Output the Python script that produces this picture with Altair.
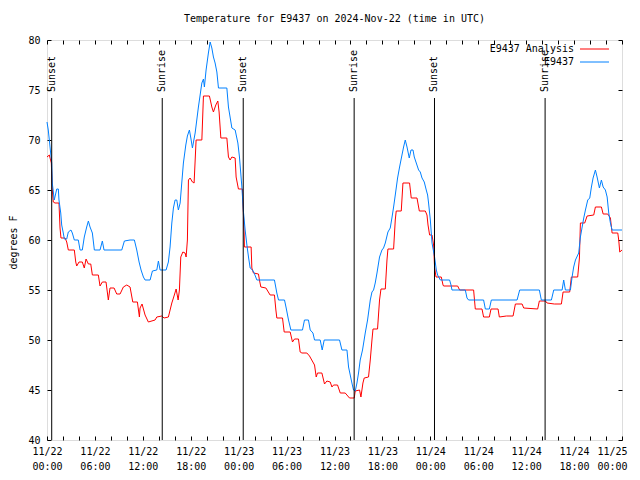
import altair as alt
import pandas as pd

# ---------------- data ----------------
obs_hours = [0.00, 0.16, 0.59, 0.66, 0.91, 1.22, 1.42, 1.50, 1.72, 1.84, 2.04, 2.17, 2.47, 2.67, 3.00, 3.17,
             3.42, 3.92, 4.14, 4.42, 4.67, 4.97, 5.18, 5.39, 5.68, 5.93, 6.64, 6.93, 7.14, 9.36, 9.69, 10.40,
             10.94, 11.24, 11.53, 11.78, 12.07, 12.28, 12.91, 13.20, 13.75, 13.95, 14.16, 14.91, 15.20, 15.41,
             15.63, 15.83, 16.04, 16.25, 16.45, 16.67, 17.08, 17.38, 17.58, 17.83, 18.01, 18.21, 18.55, 18.96,
             19.39, 19.59, 19.71, 19.92, 20.21, 20.43, 20.64, 20.84, 21.05, 21.27, 21.47, 22.52, 22.72, 23.15,
             23.56, 23.90, 24.10, 24.40, 24.60, 24.81, 25.03, 25.23, 25.44, 25.73, 25.94, 26.28, 28.48, 28.78,
             28.99, 29.74, 29.95, 30.24, 30.54, 31.99, 32.24, 32.74, 32.96, 33.30, 33.50, 34.21, 34.46, 34.71,
             36.63, 36.93, 37.56, 37.76, 38.18, 38.38, 38.60, 38.81, 39.01, 39.22, 39.51, 39.85, 40.14, 40.48,
             40.69, 40.89, 41.10, 41.32, 41.64, 41.94, 42.14, 42.36, 42.69, 42.98, 43.19, 43.40, 43.61, 43.90,
             44.15, 44.45, 44.65, 44.86, 45.08, 45.36, 45.58, 45.83, 45.99, 46.24, 46.53, 46.74, 46.96, 47.24,
             47.49, 47.66, 47.78, 48.00, 48.21, 48.53, 48.75, 48.91, 49.25, 50.41, 50.59, 50.71, 52.38, 52.59,
             52.79, 54.67, 54.89, 55.39, 55.64, 58.86, 59.19, 61.65, 61.90, 63.16, 63.45, 64.50, 64.70, 64.91,
             65.54, 65.75, 65.95, 66.17, 66.58, 66.79, 67.01, 67.21, 67.42, 67.71, 67.96, 68.17, 68.38, 68.67,
             68.88, 69.17, 69.42, 69.64, 69.92, 70.14, 70.34, 70.55, 70.76, 72.00]
obs_temps = [71.8, 71.0, 67.7, 65.7, 64.0, 65.1, 65.1, 64.0, 62.7, 61.5, 60.7, 60.1, 60.1, 60.8, 61.0, 60.7,
             60.0, 60.0, 59.0, 59.0, 60.3, 61.3, 61.9, 61.3, 60.7, 59.0, 59.0, 59.9, 59.0, 59.0, 59.9, 60.0,
             60.0, 59.0, 57.8, 57.0, 56.3, 56.0, 56.0, 56.9, 57.0, 57.9, 57.0, 57.0, 57.8, 59.3,
             61.7, 63.2, 64.0, 64.0, 63.0, 63.7, 67.7, 69.5, 70.4, 71.0, 70.2, 69.2, 70.7, 73.3,
             75.7, 76.1, 75.3, 77.0, 78.7, 79.8, 79.2, 78.3, 77.7, 76.8, 75.2, 75.2, 73.3, 71.2,
             71.0, 69.7, 68.3, 65.3, 62.8, 61.0, 59.5, 58.3, 57.2, 57.0, 56.7, 56.0, 56.0, 54.7,
             54.0, 54.0, 53.2, 52.0, 51.0, 51.0, 52.0, 52.0, 51.0, 50.7, 50.0, 50.0, 49.0, 50.0,
             50.0, 49.0, 49.0, 47.3, 45.7, 45.0, 44.9, 45.7, 46.7, 48.0, 49.0, 50.7, 52.0, 54.0,
             54.8, 55.0, 55.7, 56.7, 58.3, 59.0, 59.2, 59.7, 60.8, 61.2, 62.2, 63.3, 64.5, 66.2,
             67.3, 68.5, 69.3, 70.0, 69.3, 68.2, 69.0, 69.0, 68.3, 67.7, 67.0, 66.8, 66.2, 65.8,
             65.0, 64.5, 63.7, 62.0, 59.7, 58.3, 57.0, 56.5, 56.0, 56.0, 55.5, 55.0, 55.0, 54.2,
             54.0, 54.0, 53.1, 53.1, 54.0, 54.0, 55.0, 55.0, 54.0, 54.0, 55.0, 55.0, 56.0, 55.0,
             55.0, 56.3, 57.3, 58.0, 58.7, 60.3, 61.3, 62.2, 63.0, 64.0, 64.2, 65.3, 66.2, 67.0,
             66.3, 65.2, 66.0, 65.3, 65.0, 64.3, 62.7, 61.7, 61.0, 61.0]

ana_hours = [0.00, 0.29, 0.54, 0.66, 0.79, 1.00, 1.50, 1.63, 1.75, 2.26, 2.47, 2.67, 3.42, 3.60, 3.72, 4.01,
             4.42, 4.67, 4.89, 5.18, 5.48, 5.68, 6.43, 6.64, 6.93, 7.39, 7.68, 7.89, 8.40, 8.73, 9.15, 9.56,
             9.99, 10.40, 10.74, 11.32, 11.57, 11.65, 11.90, 12.28, 12.69, 13.53, 13.75, 14.37, 14.66, 15.20,
             15.63, 15.83, 16.17, 16.42, 16.58, 16.75, 17.01, 17.29, 17.42, 17.58, 17.71, 17.92, 18.21, 18.42,
             18.67, 19.39, 19.59, 20.34, 20.64, 20.84, 21.14, 21.39, 21.55, 21.77, 22.52, 22.72, 22.93, 23.15,
             23.56, 23.68, 23.97, 24.47, 24.60, 24.69, 24.72, 25.56, 25.65, 25.85, 26.48, 26.60, 26.78, 27.41,
             27.94, 28.48, 28.66, 28.78, 29.49, 29.70, 30.45, 30.74, 30.99, 31.49, 31.70, 31.92, 32.54, 32.87,
             33.50, 33.71, 33.87, 34.42, 34.75, 35.05, 35.46, 35.68, 35.88, 36.38, 36.72, 37.34, 37.88, 38.47,
             38.60, 39.14, 39.31, 39.56, 39.72, 40.26, 40.48, 40.69, 40.82, 41.39, 41.64, 41.82, 42.36, 42.57,
             42.69, 43.40, 43.61, 43.73, 44.36, 44.57, 45.40, 45.61, 46.33, 46.62, 47.37, 47.58, 47.71, 47.91,
             48.21, 48.41, 48.53, 48.71, 49.37, 49.59, 49.66, 51.42, 51.67, 53.42, 53.63, 54.47, 54.67, 55.39,
             55.60, 56.48, 56.64, 57.52, 58.36, 58.65, 59.49, 59.69, 61.44, 61.65, 62.41, 62.62, 63.53, 64.41,
             64.62, 65.45, 65.66, 66.45, 66.67, 66.79, 67.33, 67.63, 68.46, 68.67, 69.42, 69.64, 70.21, 70.55,
             70.76, 71.47, 71.59, 71.72, 72.00]
ana_temps = [68.3, 68.5, 67.7, 65.1, 63.8, 63.7, 63.7, 61.2, 60.2, 60.2, 59.8, 59.0, 59.0, 57.8, 57.4, 57.8,
             57.8, 57.2, 58.1, 57.6, 57.6, 56.5, 56.5, 55.4, 55.8, 55.8, 54.0, 55.2, 55.2, 54.6, 54.6, 55.3,
             55.5, 55.3, 53.8, 53.8, 52.3, 53.2, 53.6, 52.5, 51.8, 52.0, 52.3, 52.4, 52.2, 52.3,
             53.7, 54.2, 55.1, 54.0, 55.0, 58.3, 58.8, 58.7, 58.3, 60.0, 66.0, 66.2, 65.8, 65.7,
             70.0, 70.0, 74.4, 74.4, 73.3, 72.8, 73.5, 73.9, 72.8, 70.2, 70.2, 68.3, 68.0, 68.3,
             68.2, 66.3, 65.1, 65.1, 62.5, 60.5, 59.3, 59.3, 57.2, 56.7, 56.6, 56.0, 55.3, 55.2,
             54.5, 54.5, 53.0, 52.2, 52.2, 50.8, 50.8, 49.8, 50.1, 50.1, 48.8, 48.7, 48.7, 48.4,
             47.5, 46.3, 46.7, 46.7, 45.6, 45.9, 45.8, 45.3, 45.5, 45.5, 44.7, 44.7, 44.2, 44.2,
             44.9, 45.0, 44.3, 45.7, 46.2, 46.3, 48.0, 50.0, 51.1, 51.1, 54.0, 55.1, 55.1, 58.0,
             59.1, 59.1, 62.0, 62.9, 62.9, 65.7, 65.7, 64.2, 64.2, 62.9, 62.9, 62.5, 61.5, 60.5,
             60.5, 59.5, 57.3, 56.3, 56.3, 55.5, 55.4, 55.4, 55.0, 55.0, 53.1, 53.1, 52.3, 52.3,
             53.1, 53.1, 52.3, 52.4, 52.4, 53.6, 53.6, 53.2, 53.1, 53.9, 53.9, 53.7, 53.6, 53.6,
             54.8, 54.8, 56.3, 56.3, 58.2, 61.7, 61.7, 62.4, 62.5, 63.3, 63.3, 62.6, 62.6, 62.2,
             60.7, 60.7, 60.0, 58.8, 59.0]

sun_hours = [0.59, 14.43, 24.57, 38.46, 48.52, 62.37]
sun_labels = ["Sunset", "Sunrise", "Sunset", "Sunrise", "Sunset", "Sunrise"]

tick_hours = [0, 6, 12, 18, 24, 30, 36, 42, 48, 54, 60, 66, 72]
tick_days = ["11/22"] * 4 + ["11/23"] * 4 + ["11/24"] * 4 + ["11/25"]
tick_times = ["00:00", "06:00", "12:00", "18:00"] * 3 + ["00:00"]
minor_tick_hours = list(range(0, 73, 2))
y_ticks = [40, 45, 50, 55, 60, 65, 70, 75, 80]

series_names = ["E9437 Analysis", "E9437"]
series_colors = ["#ff0000", "#0080ff"]

TITLE = "Temperature for E9437 on 2024-Nov-22 (time in UTC)"
FONT = "DejaVu Sans Mono"
W, H = 575, 400

# ---------------- build ----------------
df_ana = pd.DataFrame({"h": ana_hours, "temp": ana_temps})
df_obs = pd.DataFrame({"h": obs_hours, "temp": obs_temps})
df_sun = pd.DataFrame({"h": sun_hours, "label": sun_labels})
df_leg = pd.DataFrame({"name": series_names, "color": series_colors})

label_expr = "[" + ",".join(f"['{d}','{t}']" for d, t in zip(tick_days, tick_times)) + "][round(datum.value/6)]"

xscale = alt.Scale(domain=[0, 72], nice=False, zero=False)
yscale = alt.Scale(domain=[40, 80], nice=False, zero=False)

x_label_axis = alt.Axis(orient="bottom", values=tick_hours, labelExpr=label_expr, ticks=False, domain=False,
                        grid=False, labelPadding=6, labelFont=FONT, labelFontSize=10, labelColor="black",
                        labelBaseline="top", labelLineHeight=15, labelFlush=False, labelOverlap=False,
                        labelOffset={"condition": {"test": f"datum.value >= {tick_hours[-1]}", "value": -10},
                                     "value": 0},
                        title=None)
x_ticks_bottom_edge = alt.Axis(orient="top", offset=-H, values=minor_tick_hours, labels=False, domain=False,
                               grid=False, ticks=True, tickSize=4, tickColor="black", title=None)
x_ticks_top_edge = alt.Axis(orient="bottom", offset=-H, values=minor_tick_hours, labels=False, domain=False,
                            grid=False, ticks=True, tickSize=4, tickColor="black", title=None)
y_label_axis = alt.Axis(orient="left", values=y_ticks, ticks=False, domain=False, grid=False, labelPadding=7,
                        labelFont=FONT, labelFontSize=10, labelColor="black", labelOverlap=False,
                        title="degrees F", titleFont=FONT, titleFontSize=10, titleFontWeight="normal",
                        titleColor="black", titleX=-34, titleY=H / 2 + 2, titleAngle=270,
                        titleBaseline="middle", titleAlign="center")
y_ticks_left_edge = alt.Axis(orient="right", offset=-W, values=y_ticks, labels=False, domain=False, grid=False,
                             ticks=True, tickSize=4, tickColor="black", title=None)
y_ticks_right_edge = alt.Axis(orient="left", offset=-W, values=y_ticks, labels=False, domain=False, grid=False,
                              ticks=True, tickSize=4, tickColor="black", title=None)

red = alt.Chart(df_ana).mark_line(color=series_colors[0], strokeWidth=1).encode(
    x=alt.X("h:Q", scale=xscale, axis=x_ticks_bottom_edge),
    y=alt.Y("temp:Q", scale=yscale, axis=y_ticks_left_edge),
)
blue = alt.Chart(df_obs).mark_line(color=series_colors[1], strokeWidth=1).encode(
    x=alt.X("h:Q", scale=xscale, axis=x_label_axis),
    y=alt.Y("temp:Q", scale=yscale, axis=y_label_axis),
)
sun_rules = alt.Chart(df_sun).mark_rule(color="black", strokeWidth=1).encode(
    x=alt.X("h:Q", scale=xscale, axis=x_ticks_top_edge),
    y=alt.YDatum(40, type="quantitative", axis=y_ticks_right_edge),
    y2=alt.Y2Datum(74.2),
)
sun_text = alt.Chart(df_sun).mark_text(angle=270, align="left", baseline="middle", font=FONT, fontSize=10,
                                       color="black").encode(
    x=alt.X("h:Q", scale=xscale, axis=None),
    y=alt.YDatum(74.8, type="quantitative", axis=None),
    text="label:N",
)

legend_layers = []
for i, (name, color) in enumerate(zip(series_names, series_colors)):
    row = df_leg[df_leg["name"] == name]
    ypos = 9 + 13 * i
    legend_layers.append(
        alt.Chart(row).mark_text(align="right", baseline="middle", font=FONT, fontSize=10, color="black").encode(
            x=alt.value(527), y=alt.value(ypos), text="name:N")
    )
    legend_layers.append(
        alt.Chart(row).mark_rule(strokeWidth=1).encode(
            x=alt.value(533), x2=alt.value(562), y=alt.value(ypos), color=alt.value(color))
    )

chart = alt.layer(red, blue, sun_rules, sun_text, *legend_layers).resolve_axis(
    x="independent", y="independent"
).properties(
    width=W, height=H,
    title=alt.TitleParams(TITLE, font=FONT, fontSize=10, fontWeight="normal", anchor="middle", offset=11,
                          color="black"),
    autosize=alt.AutoSizeParams(type="none"),
    padding={"left": 39, "top": 32, "right": 10, "bottom": 32},
).configure_view(stroke="black", strokeWidth=1).configure(background="white")

chart.save("out.html", embed_options={"renderer": "svg", "actions": False})
